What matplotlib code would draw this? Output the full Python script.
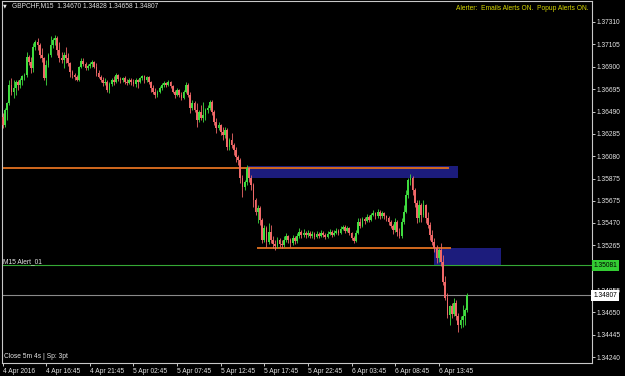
import matplotlib
matplotlib.use('Agg')
import matplotlib.pyplot as plt
import matplotlib.transforms as mtransforms
from matplotlib.patches import Rectangle
import numpy as np

plt.rcParams['font.family'] = ['Liberation Sans', 'DejaVu Sans']

# GBPCHF M15 bars, 4 Apr 2016 11:45 -> 6 Apr 2016 16:45
opens = [
    1.36440, 1.36366, 1.36504, 1.36568, 1.36733, 1.36669, 1.36705, 1.36760, 1.36733, 1.36779,
    1.36815, 1.36824, 1.36989, 1.36944, 1.36889, 1.37081, 1.37127, 1.37099, 1.37007, 1.36980,
    1.36797, 1.36917, 1.37007, 1.37099, 1.37145, 1.37163, 1.37053, 1.36980, 1.36962, 1.37007,
    1.36980, 1.36935, 1.36852, 1.36824, 1.36806, 1.36779, 1.36898, 1.36953, 1.36926, 1.36889,
    1.36907, 1.36926, 1.36944, 1.36898, 1.36843, 1.36806, 1.36779, 1.36751, 1.36760, 1.36687,
    1.36742, 1.36779, 1.36760, 1.36824, 1.36788, 1.36779, 1.36797, 1.36760, 1.36751, 1.36779,
    1.36760, 1.36742, 1.36779, 1.36760, 1.36797, 1.36815, 1.36779, 1.36806, 1.36760, 1.36705,
    1.36669, 1.36641, 1.36669, 1.36705, 1.36733, 1.36751, 1.36733, 1.36760, 1.36724, 1.36669,
    1.36641, 1.36687, 1.36641, 1.36614, 1.36669, 1.36733, 1.36641, 1.36522, 1.36568, 1.36504,
    1.36412, 1.36486, 1.36431, 1.36458, 1.36504, 1.36522, 1.36577, 1.36486, 1.36394, 1.36339,
    1.36366, 1.36302, 1.36275, 1.36321, 1.36165, 1.36229, 1.36183, 1.36138, 1.36074, 1.36046,
    1.35881, 1.35799, 1.35845, 1.35973, 1.35881, 1.35817, 1.35680, 1.35570, 1.35607, 1.35497,
    1.35314, 1.35423, 1.35295, 1.35387, 1.35314, 1.35277, 1.35259, 1.35314, 1.35277, 1.35268,
    1.35314, 1.35350, 1.35314, 1.35286, 1.35332, 1.35304, 1.35350, 1.35387, 1.35359, 1.35378,
    1.35359, 1.35378, 1.35350, 1.35368, 1.35341, 1.35368, 1.35350, 1.35378, 1.35359, 1.35341,
    1.35368, 1.35387, 1.35359, 1.35378, 1.35396, 1.35378, 1.35414, 1.35433, 1.35396, 1.35423,
    1.35378, 1.35332, 1.35304, 1.35378, 1.35478, 1.35442, 1.35506, 1.35488, 1.35524, 1.35497,
    1.35542, 1.35561, 1.35533, 1.35570, 1.35533, 1.35561, 1.35533, 1.35515, 1.35478, 1.35442,
    1.35405, 1.35478, 1.35387, 1.35350, 1.35478, 1.35570, 1.35726, 1.35863, 1.35881, 1.35771,
    1.35652, 1.35515, 1.35634, 1.35542, 1.35634, 1.35515, 1.35451, 1.35359, 1.35295, 1.35240,
    1.35149, 1.35222, 1.35112, 1.34929, 1.34783, 1.34627, 1.34709, 1.34636, 1.34737, 1.34618,
    1.34535, 1.34581, 1.34618, 1.34670,
]
highs = [
    1.36476, 1.36522, 1.36577, 1.36779, 1.36797, 1.36779, 1.36779, 1.36779, 1.36797, 1.36824,
    1.36843, 1.37035, 1.37007, 1.36989, 1.37118, 1.37145, 1.37163, 1.37118, 1.37072, 1.36989,
    1.36962, 1.37026, 1.37181, 1.37163, 1.37191, 1.37181, 1.37127, 1.37035, 1.37035, 1.37081,
    1.37026, 1.36944, 1.36870, 1.36843, 1.36824, 1.36907, 1.36980, 1.36980, 1.36944, 1.36926,
    1.36944, 1.36962, 1.36953, 1.36935, 1.36870, 1.36824, 1.36806, 1.36797, 1.36779, 1.36760,
    1.36797, 1.36815, 1.36843, 1.36833, 1.36806, 1.36806, 1.36815, 1.36788, 1.36797, 1.36797,
    1.36788, 1.36797, 1.36788, 1.36806, 1.36824, 1.36824, 1.36815, 1.36815, 1.36769, 1.36733,
    1.36705, 1.36687, 1.36724, 1.36751, 1.36769, 1.36760, 1.36779, 1.36769, 1.36733, 1.36687,
    1.36705, 1.36696, 1.36669, 1.36687, 1.36760, 1.36751, 1.36669, 1.36595, 1.36586, 1.36568,
    1.36504, 1.36550, 1.36577, 1.36522, 1.36550, 1.36595, 1.36595, 1.36504, 1.36431, 1.36394,
    1.36376, 1.36348, 1.36348, 1.36339, 1.36247, 1.36293, 1.36202, 1.36165, 1.36092, 1.36064,
    1.35909, 1.35863, 1.36000, 1.35982, 1.35909, 1.35835, 1.35698, 1.35634, 1.35625, 1.35515,
    1.35451, 1.35442, 1.35469, 1.35451, 1.35350, 1.35314, 1.35341, 1.35332, 1.35314, 1.35350,
    1.35378, 1.35359, 1.35332, 1.35359, 1.35350, 1.35378, 1.35423, 1.35405, 1.35414, 1.35396,
    1.35405, 1.35396, 1.35396, 1.35387, 1.35396, 1.35387, 1.35405, 1.35396, 1.35378, 1.35396,
    1.35414, 1.35405, 1.35405, 1.35423, 1.35414, 1.35442, 1.35451, 1.35451, 1.35442, 1.35433,
    1.35387, 1.35350, 1.35405, 1.35515, 1.35515, 1.35524, 1.35524, 1.35552, 1.35542, 1.35561,
    1.35588, 1.35570, 1.35597, 1.35588, 1.35579, 1.35570, 1.35542, 1.35533, 1.35497, 1.35460,
    1.35515, 1.35497, 1.35423, 1.35515, 1.35634, 1.35771, 1.35881, 1.35918, 1.35900, 1.35790,
    1.35680, 1.35680, 1.35652, 1.35680, 1.35643, 1.35570, 1.35478, 1.35405, 1.35332, 1.35268,
    1.35240, 1.35286, 1.35176, 1.34983, 1.34828, 1.34718, 1.34737, 1.34783, 1.34764, 1.34645,
    1.34618, 1.34718, 1.34691, 1.34828,
]
lows = [
    1.36339, 1.36348, 1.36412, 1.36550, 1.36641, 1.36614, 1.36641, 1.36687, 1.36705, 1.36733,
    1.36779, 1.36806, 1.36917, 1.36843, 1.36852, 1.37053, 1.37053, 1.36980, 1.36944, 1.36779,
    1.36733, 1.36898, 1.36989, 1.37072, 1.37099, 1.37007, 1.36944, 1.36935, 1.36889, 1.36935,
    1.36907, 1.36806, 1.36797, 1.36779, 1.36769, 1.36769, 1.36889, 1.36907, 1.36870, 1.36870,
    1.36889, 1.36898, 1.36889, 1.36815, 1.36797, 1.36760, 1.36724, 1.36733, 1.36669, 1.36659,
    1.36724, 1.36733, 1.36751, 1.36769, 1.36751, 1.36760, 1.36742, 1.36733, 1.36742, 1.36733,
    1.36724, 1.36714, 1.36705, 1.36751, 1.36779, 1.36751, 1.36760, 1.36742, 1.36669, 1.36650,
    1.36614, 1.36623, 1.36659, 1.36687, 1.36714, 1.36714, 1.36724, 1.36705, 1.36659, 1.36614,
    1.36632, 1.36623, 1.36595, 1.36605, 1.36659, 1.36623, 1.36476, 1.36504, 1.36486, 1.36348,
    1.36394, 1.36412, 1.36394, 1.36412, 1.36476, 1.36504, 1.36458, 1.36366, 1.36293, 1.36321,
    1.36275, 1.36229, 1.36247, 1.36138, 1.36138, 1.36156, 1.36092, 1.36028, 1.36000, 1.35835,
    1.35707, 1.35771, 1.35817, 1.35845, 1.35771, 1.35616, 1.35542, 1.35469, 1.35451, 1.35286,
    1.35295, 1.35249, 1.35277, 1.35286, 1.35240, 1.35222, 1.35240, 1.35249, 1.35240, 1.35249,
    1.35295, 1.35286, 1.35249, 1.35268, 1.35277, 1.35286, 1.35332, 1.35332, 1.35341, 1.35332,
    1.35341, 1.35332, 1.35332, 1.35323, 1.35332, 1.35332, 1.35341, 1.35341, 1.35323, 1.35332,
    1.35359, 1.35341, 1.35350, 1.35368, 1.35359, 1.35368, 1.35405, 1.35378, 1.35387, 1.35359,
    1.35314, 1.35286, 1.35295, 1.35368, 1.35423, 1.35433, 1.35460, 1.35478, 1.35478, 1.35488,
    1.35533, 1.35506, 1.35515, 1.35506, 1.35515, 1.35506, 1.35488, 1.35451, 1.35423, 1.35368,
    1.35387, 1.35350, 1.35332, 1.35332, 1.35460, 1.35561, 1.35698, 1.35817, 1.35726, 1.35616,
    1.35469, 1.35478, 1.35478, 1.35524, 1.35469, 1.35423, 1.35314, 1.35268, 1.35204, 1.35103,
    1.35112, 1.35076, 1.34902, 1.34764, 1.34599, 1.34535, 1.34599, 1.34618, 1.34581, 1.34471,
    1.34508, 1.34517, 1.34535, 1.34658,
]
closes = [
    1.36366, 1.36504, 1.36568, 1.36733, 1.36669, 1.36705, 1.36760, 1.36733, 1.36779, 1.36815,
    1.36824, 1.36989, 1.36944, 1.36889, 1.37081, 1.37127, 1.37099, 1.37007, 1.36980, 1.36797,
    1.36917, 1.37007, 1.37099, 1.37145, 1.37163, 1.37053, 1.36980, 1.36962, 1.37007, 1.36980,
    1.36935, 1.36852, 1.36824, 1.36806, 1.36779, 1.36898, 1.36953, 1.36926, 1.36889, 1.36907,
    1.36926, 1.36944, 1.36898, 1.36843, 1.36806, 1.36779, 1.36751, 1.36760, 1.36687, 1.36742,
    1.36779, 1.36760, 1.36824, 1.36788, 1.36779, 1.36797, 1.36760, 1.36751, 1.36779, 1.36760,
    1.36742, 1.36779, 1.36760, 1.36797, 1.36815, 1.36779, 1.36806, 1.36760, 1.36705, 1.36669,
    1.36641, 1.36669, 1.36705, 1.36733, 1.36751, 1.36733, 1.36760, 1.36724, 1.36669, 1.36641,
    1.36687, 1.36641, 1.36614, 1.36669, 1.36733, 1.36641, 1.36522, 1.36568, 1.36504, 1.36412,
    1.36486, 1.36431, 1.36458, 1.36504, 1.36522, 1.36577, 1.36486, 1.36394, 1.36339, 1.36366,
    1.36302, 1.36275, 1.36321, 1.36165, 1.36229, 1.36183, 1.36138, 1.36074, 1.36046, 1.35881,
    1.35799, 1.35845, 1.35973, 1.35881, 1.35817, 1.35680, 1.35570, 1.35607, 1.35497, 1.35314,
    1.35423, 1.35295, 1.35387, 1.35314, 1.35277, 1.35259, 1.35314, 1.35277, 1.35268, 1.35314,
    1.35350, 1.35314, 1.35286, 1.35332, 1.35304, 1.35350, 1.35387, 1.35359, 1.35378, 1.35359,
    1.35378, 1.35350, 1.35368, 1.35341, 1.35368, 1.35350, 1.35378, 1.35359, 1.35341, 1.35368,
    1.35387, 1.35359, 1.35378, 1.35396, 1.35378, 1.35414, 1.35433, 1.35396, 1.35423, 1.35378,
    1.35332, 1.35304, 1.35378, 1.35478, 1.35442, 1.35506, 1.35488, 1.35524, 1.35497, 1.35542,
    1.35561, 1.35533, 1.35570, 1.35533, 1.35561, 1.35533, 1.35515, 1.35478, 1.35442, 1.35405,
    1.35478, 1.35387, 1.35350, 1.35478, 1.35570, 1.35726, 1.35863, 1.35881, 1.35771, 1.35652,
    1.35515, 1.35634, 1.35542, 1.35634, 1.35515, 1.35451, 1.35359, 1.35295, 1.35240, 1.35149,
    1.35222, 1.35112, 1.34929, 1.34783, 1.34627, 1.34709, 1.34636, 1.34737, 1.34618, 1.34535,
    1.34581, 1.34618, 1.34670, 1.34807,
]

x_tick_bars = [0, 20, 40, 60, 80, 100, 120, 140, 160, 180, 200]
x_tick_labels = ['4 Apr 2016', '4 Apr 16:45', '4 Apr 21:45', '5 Apr 02:45', '5 Apr 07:45',
                 '5 Apr 12:45', '5 Apr 17:45', '5 Apr 22:45', '6 Apr 03:45', '6 Apr 08:45',
                 '6 Apr 13:45']
y_ticks = [1.37310, 1.37105, 1.36900, 1.36695, 1.36490, 1.36285, 1.36080, 1.35875,
           1.35675, 1.35470, 1.35265, 1.34855, 1.34650, 1.34445, 1.34240]

resistance = 1.35973          # orange line, from chart start
resistance_end = 204.7
support = 1.35241             # orange line
support_span = (116.5, 205.8)
zone_upper = (112.4, 208.7, 1.35884, 1.35994)   # start bar, end bar, low, high
zone_lower = (197.7, 228.4, 1.35085, 1.35243)
alert_level = 1.35081
bid = 1.34807

BULL = '#3fdc3f'
BEAR = '#f06868'
FS = 4.8

fig = plt.figure(figsize=(6.25, 3.76), dpi=100, facecolor='black')
ax = fig.add_axes([2 / 625, 13 / 376, 590 / 625, 362 / 376], facecolor='black')

# zones and levels
for x0, x1, lo, hi in (zone_upper, zone_lower):
    ax.add_patch(Rectangle((x0, lo), x1 - x0, hi - lo, facecolor='#1c1c7c',
                           edgecolor='none', zorder=1))
ax.hlines(resistance, -5, resistance_end, color='#d2691e', lw=1.4, zorder=2)
ax.hlines(support, support_span[0], support_span[1], color='#d2691e', lw=1.4, zorder=2)
ax.axhline(alert_level, color='#35a835', lw=0.8, zorder=2)
ax.axhline(bid, color='#8a8a8a', lw=0.8, zorder=2)

# candles
o = np.array(opens)
c = np.array(closes)
idx = np.arange(len(c))
cols = np.where(c >= o, BULL, BEAR)
ax.vlines(idx, lows, highs, colors=cols, lw=0.6, zorder=3)
ax.bar(idx, c - o, bottom=o, width=0.8, color=cols, linewidth=0, zorder=4)

ax.set_xlim(-0.3, 270.3)
ax.set_ylim(1.34187, 1.37502)

for sp in ax.spines.values():
    sp.set_color('#c8c8c8')
    sp.set_linewidth(0.8)

ax.set_xticks(x_tick_bars)
ax.set_xticklabels(x_tick_labels)
for lbl in ax.get_xticklabels():
    lbl.set_ha('left')
ax.yaxis.tick_right()
ax.set_yticks(y_ticks)
ax.set_yticklabels([f'{v:.5f}' for v in y_ticks])
ax.tick_params(axis='x', length=2.5, width=0.7, colors='#c8c8c8', pad=1.2,
               labelsize=FS, labelcolor='#e6e6e6')
ax.tick_params(axis='y', length=2, width=0.7, colors='#c8c8c8', pad=1.5,
               labelsize=FS, labelcolor='#e6e6e6')

# price boxes on the right scale
trans = mtransforms.blended_transform_factory(ax.transAxes, ax.transData)
ax.text(1.0025, alert_level, f'{alert_level:.5f}', transform=trans, ha='left', va='center',
        fontsize=FS, color='black', clip_on=False, zorder=10,
        bbox=dict(boxstyle='square,pad=0.25', fc='#33cc33', ec='none'))
ax.text(1.0025, bid, f'{bid:.5f}', transform=trans, ha='left', va='center',
        fontsize=FS, color='black', clip_on=False, zorder=10,
        bbox=dict(boxstyle='square,pad=0.3', fc='white', ec='none'))

# chart texts
ax.text(0.002, alert_level, 'M15 Alert_01', transform=trans, ha='left', va='bottom',
        fontsize=FS, color='#e6e6e6', zorder=10)
fig.text(3 / 625, 1 - 6 / 376, '\u25bc', ha='left', va='center', fontsize=3.5,
         color='#e6e6e6', family='DejaVu Sans')
fig.text(12 / 625, 1 - 6 / 376, 'GBPCHF,M15  1.34670 1.34828 1.34658 1.34807',
         ha='left', va='center', fontsize=FS, color='#e0e0e0')
fig.text(589 / 625, 1 - 9 / 376, 'Alerter:  Emails Alerts ON.  Popup Alerts ON.',
         ha='right', va='center', fontsize=FS, color='#d8d800')
fig.text(4 / 625, 1 - 356 / 376, 'Close 5m 4s | Sp: 3pt', ha='left', va='center',
         fontsize=FS, color='#e6e6e6')

fig.savefig('out.png', dpi=100, facecolor='black')
